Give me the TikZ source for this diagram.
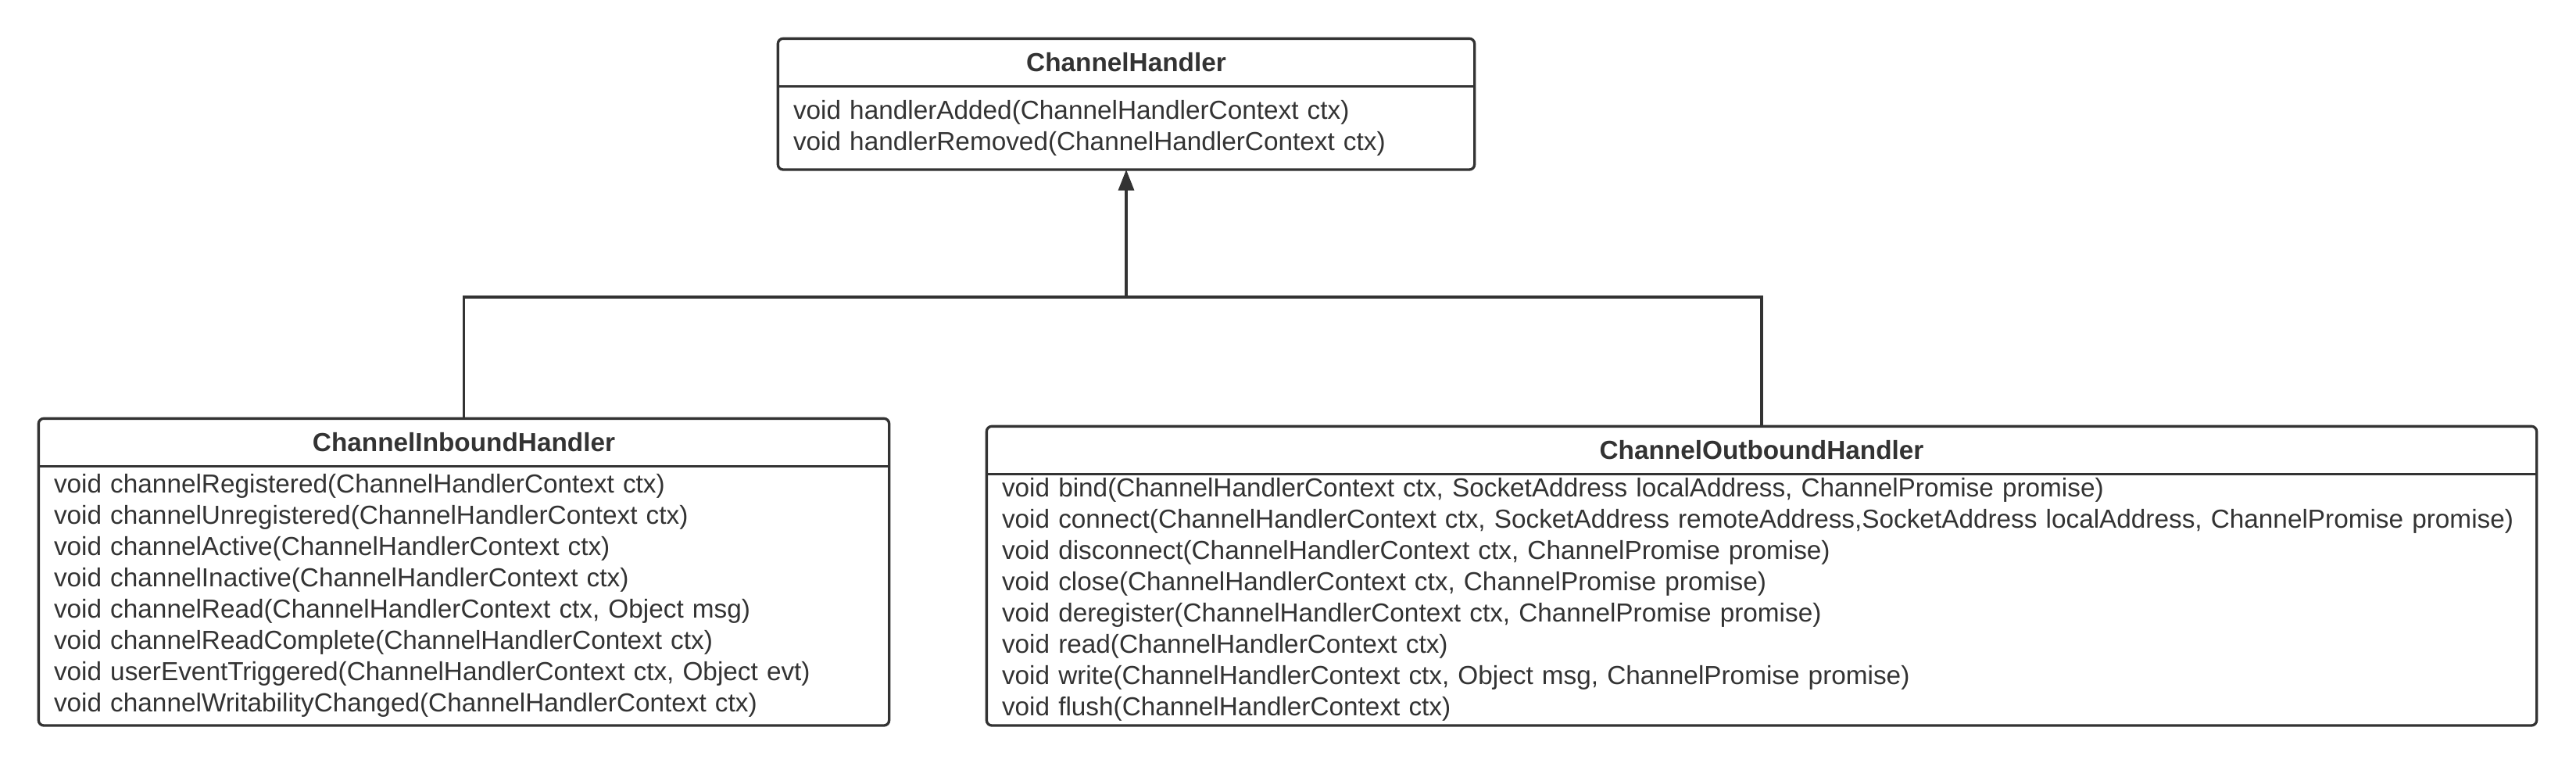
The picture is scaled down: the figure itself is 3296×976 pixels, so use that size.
\documentclass[tikz,border=0pt]{standalone}
\usepackage{fontspec}
\setmainfont{Liberation Sans}
\usepackage{xcolor}
\usepackage{tikz}
\usetikzlibrary{arrows.meta,positioning}
\definecolor{umlline}{HTML}{333333}

\begin{document}
\begin{tikzpicture}[
    x=0.3pt,y=-0.3pt,
    font=\fontsize{10pt}{12pt}\selectfont,
    text=umlline,
    classname/.style={align=center,inner xsep=5.7pt,inner ysep=0pt,minimum height=18pt,font=\fontsize{10pt}{12pt}\selectfont\bfseries},
    classops/.style={align=left,inner xsep=5.7pt,inner ysep=0pt},
    frame/.style={draw=umlline,line width=1pt,rounded corners=2pt},
    conn/.style={draw=umlline,line width=1pt}
  ]
    \fill[white] (0,0) rectangle (3296,976);
    \useasboundingbox (0,0) rectangle (3296,976);
    % base interface
    \node[classname,text width=255.6pt] (handler) at (1441,80) {ChannelHandler};
    \node[classops,text width=255.6pt,minimum height=31.5pt,below=0pt of handler] (handlerops) {void handlerAdded(ChannelHandlerContext ctx)\\void handlerRemoved(ChannelHandlerContext ctx)};
    % inbound interface
    \node[classname,text width=314.7pt] (inbound) at (593.5,566) {ChannelInboundHandler};
    \node[classops,text width=314.7pt,minimum height=99pt,below=0pt of inbound] (inboundops) {void channelRegistered(ChannelHandlerContext ctx)\\void channelUnregistered(ChannelHandlerContext ctx)\\void channelActive(ChannelHandlerContext ctx)\\void channelInactive(ChannelHandlerContext ctx)\\void channelRead(ChannelHandlerContext ctx, Object msg)\\void channelReadComplete(ChannelHandlerContext ctx)\\void userEventTriggered(ChannelHandlerContext ctx, Object evt)\\void channelWritabilityChanged(ChannelHandlerContext ctx)};
    % outbound interface
    \node[classname,text width=583.2pt] (outbound) at (2254,576) {ChannelOutboundHandler};
    \node[classops,text width=583.2pt,minimum height=96pt,below=0pt of outbound] (outboundops) {void bind(ChannelHandlerContext ctx, SocketAddress localAddress, ChannelPromise promise)\\void connect(ChannelHandlerContext ctx, SocketAddress remoteAddress,SocketAddress localAddress, ChannelPromise promise)\\void disconnect(ChannelHandlerContext ctx, ChannelPromise promise)\\void close(ChannelHandlerContext ctx, ChannelPromise promise)\\void deregister(ChannelHandlerContext ctx, ChannelPromise promise)\\void read(ChannelHandlerContext ctx)\\void write(ChannelHandlerContext ctx, Object msg, ChannelPromise promise)\\void flush(ChannelHandlerContext ctx)};
    % frames and dividers
    \draw[frame] (handler.north west) rectangle (handlerops.south east);
    \draw[frame] (handler.south west) -- (handler.south east);
    \draw[frame] (inbound.north west) rectangle (inboundops.south east);
    \draw[frame] (inbound.south west) -- (inbound.south east);
    \draw[frame] (outbound.north west) rectangle (outboundops.south east);
    \draw[frame] (outbound.south west) -- (outbound.south east);
    % generalization
    \coordinate (join) at (1441,380);
    \draw[conn] (inbound.north) |- (join) -| (outbound.north);
    \draw[conn,-{Triangle[length=8pt,width=6pt]}] (join) -- (handlerops.south);
  \end{tikzpicture}
\end{document}
